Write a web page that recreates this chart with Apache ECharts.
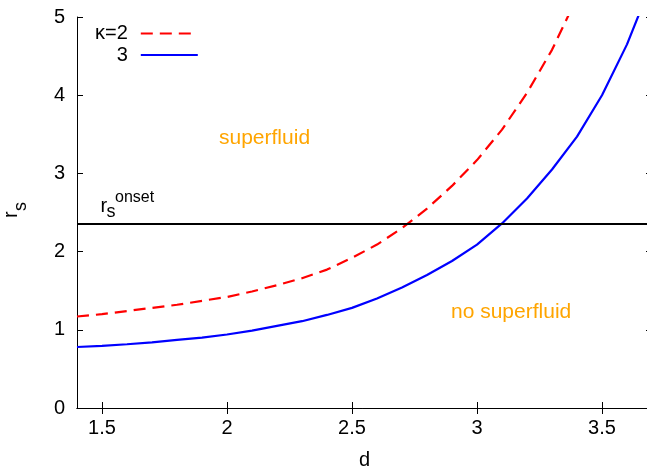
<!DOCTYPE html>
<html><head><meta charset="utf-8">
<script src="https://cdn.jsdelivr.net/npm/echarts@6/dist/echarts.min.js"></script>
<style>html,body{margin:0;padding:0;background:#fff}#c{width:647px;height:470px}</style>
</head><body><div id="c"></div><script>
// d values (x) sampled every 0.1
const dKappa2 = [1.4,1.5,1.6,1.7,1.8,1.9,2.0,2.1,2.2,2.3,2.4,2.5,2.6,2.7,2.8,2.9,3.0,3.1,3.2,3.3,3.4];
const rsKappa2 = [1.17,1.20,1.24,1.28,1.32,1.37,1.42,1.49,1.57,1.66,1.77,1.92,2.09,2.30,2.55,2.84,3.17,3.56,4.03,4.58,5.25];
const dKappa3 = [1.4,1.5,1.6,1.7,1.8,1.9,2.0,2.1,2.2,2.3,2.4,2.5,2.6,2.7,2.8,2.9,3.0,3.1,3.2,3.3,3.4,3.5,3.6,3.7];
const rsKappa3 = [0.78,0.795,0.815,0.84,0.87,0.90,0.94,0.99,1.05,1.11,1.19,1.28,1.40,1.54,1.70,1.88,2.09,2.36,2.68,3.05,3.47,4.00,4.65,5.45];
const rsOnset = 2.35;
const seriesNames = ['κ=2', '3'];
const xTicks = [1.5, 2, 2.5, 3, 3.5];
const yTicks = [0, 1, 2, 3, 4, 5];
const xRange = [1.4, 3.7];
const yRange = [0, 5];

const FONT = 'Liberation Sans, Arial, Helvetica, sans-serif';
const chart = echarts.init(document.getElementById('c'), null, {renderer: 'canvas'});
const pairs = (xs, ys) => xs.map((x, i) => [x, ys[i]]);
const axisCommon = {
  type: 'value', splitLine: {show: false},
  axisLine: {show: true, lineStyle: {color: '#000', width: 1}},
};
const orange = '#FFA500';
const txt = (x, y, text, size, color, extra) => Object.assign({
  type: 'text', x: x, y: y, silent: true,
  style: {text: text, fill: color || '#000', font: size + 'px ' + FONT, align: 'left', verticalAlign: 'middle'}
}, extra || {});

chart.setOption({
  animation: false,
  backgroundColor: '#fff',
  grid: {left: 77, top: 17, width: 575, height: 391, containLabel: false, outerBoundsMode: 'none'},
  legend: {
    orient: 'vertical', left: 95, top: 23.5, padding: 0, align: 'right',
    itemWidth: 57, itemHeight: 14, itemGap: 1.5,
    itemStyle: {opacity: 0, borderWidth: 0},
    textStyle: {fontSize: 20, fontFamily: FONT, color: '#000', lineHeight: 20, padding: [0, 8, 0, 0]},
    data: seriesNames
  },
  xAxis: [
    Object.assign({}, axisCommon, {
      position: 'bottom', min: xRange[0], max: xRange[1],
      axisTick: {show: true, inside: true, length: 6, customValues: xTicks, lineStyle: {color: '#000'}},
      axisLabel: {show: true, customValues: xTicks, margin: 10, fontSize: 20, fontFamily: FONT, color: '#000'},
      name: 'd', nameLocation: 'middle', nameGap: 42,
      nameTextStyle: {fontSize: 20, fontFamily: FONT, color: '#000'}
    }),
    Object.assign({}, axisCommon, {
      position: 'top', min: xRange[0], max: xRange[1],
      axisTick: {show: true, inside: true, length: 6, customValues: xTicks, lineStyle: {color: '#000'}},
      axisLabel: {show: false}
    })
  ],
  yAxis: [
    Object.assign({}, axisCommon, {
      position: 'left', min: yRange[0], max: yRange[1],
      axisTick: {show: true, inside: true, length: 6, customValues: yTicks, lineStyle: {color: '#000'}},
      axisLabel: {show: true, customValues: yTicks, margin: 12, fontSize: 20, fontFamily: FONT, color: '#000'}
    }),
    Object.assign({}, axisCommon, {
      position: 'right', min: yRange[0], max: yRange[1],
      axisTick: {show: true, inside: true, length: 6, customValues: yTicks, lineStyle: {color: '#000'}},
      axisLabel: {show: false}
    })
  ],
  series: [
    {
      name: seriesNames[0], type: 'line', data: pairs(dKappa2, rsKappa2),
      showSymbol: false, symbol: 'none', smooth: false, clip: true,
      lineStyle: {color: '#FF0000', width: 2.2, type: [12, 7]}, itemStyle: {color: '#FF0000'},
      markLine: {
        silent: true, symbol: ['none', 'none'], label: {show: false},
        lineStyle: {color: '#000', width: 2, type: 'solid'},
        data: [{yAxis: rsOnset}]
      }
    },
    {
      name: seriesNames[1], type: 'line', data: pairs(dKappa3, rsKappa3),
      showSymbol: false, symbol: 'none', smooth: false, clip: true,
      lineStyle: {color: '#0000FF', width: 2.2, type: 'solid'}, itemStyle: {color: '#0000FF'}
    }
  ],
  graphic: [
    txt(219, 138, 'superfluid', 21, orange),
    txt(451, 312, 'no superfluid', 21, orange),
    txt(100.5, 206.5, 'r', 20),
    txt(106.5, 212, 's', 18),
    txt(115, 198, 'onset', 16),
    {
      type: 'group', x: 18.3, y: 218, rotation: Math.PI / 2, silent: true,
      children: [txt(0, -6.8, 'r', 20), txt(7, 2.3, 's', 18)]
    }
  ]
});
</script></body></html>
